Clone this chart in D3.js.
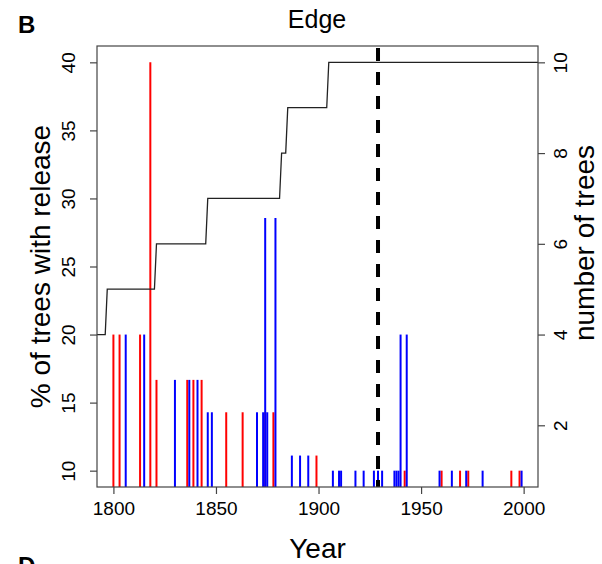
<!DOCTYPE html>
<html lang="en">
<head>
    <meta charset="UTF-8">
    <title>Edge</title>
    <style>
        body{ margin:0; background:#fff; }
        text{ font-family: "Liberation Sans", Arial, sans-serif; }
    </style>
</head>
<body>
    <script src="https://cdn.jsdelivr.net/npm/d3@7"></script>
    <script>
        const w = 602;
        const h = 564;

        // releases, red series (year, % of trees with release)
        const redYears = [1800,1803,1813,1818,1821,1836,1839,1843,1855,1863,1874,1878,1899,1942,1960,1969,1973,1994,1998];
        const redPct   = [20,20,20,40,16.67,16.67,16.67,16.67,14.29,14.29,14.29,14.29,11.11,10,10,10,10,10,10];

        // releases, blue series
        const blueYears = [1806,1815,1830,1837,1841,1846,1848,1870,1873,1874,1875,1879,1887,1891,1895,
                           1907,1910,1911,1918,1922,1927,1929,1931,1937,1938,1939,1940,1943,1959,1965,1972,1980,1999];
        const bluePct   = [20,20,16.67,16.67,16.67,14.29,14.29,14.29,14.29,28.57,14.29,28.57,11.11,11.11,11.11,
                           10,10,10,10,10,10,10,10,10,10,10,20,20,10,10,10,10,10];

        // number of trees through time
        const stepYears  = [1780,1796,1797,1820,1821,1845,1846,1881,1882,1884,1885,1904,1905,2020];
        const stepCounts = [4,4,5,5,6,6,7,7,8,8,9,9,10,10];

        const cutYear = 1929;

        const xTicks = [1800,1850,1900,1950,2000];
        const yTicks = [10,15,20,25,30,35,40];
        const nTicks = [2,4,6,8,10];

        const m = {left: 97, right: 538, top: 46, bottom: 487};

        const svg = d3.select("body")
            .append("svg")
            .attr("width", w)
            .attr("height", h);

        const x = d3.scaleLinear().domain([1792, 2007]).range([m.left, m.right]);
        const y = d3.scaleLinear().domain([8.8, 41.2]).range([m.bottom, m.top]);
        const y2 = d3.scaleLinear().domain([0.64, 10.36]).range([m.bottom, m.top]);

        svg.append("clipPath").attr("id", "clip")
            .append("rect")
            .attr("x", m.left).attr("y", m.top)
            .attr("width", m.right - m.left).attr("height", m.bottom - m.top);

        const plot = svg.append("g").attr("clip-path", "url(#clip)");

        // spikes
        const red = redYears.map((d, i) => ({year: d, pct: redPct[i]}));
        const blue = blueYears.map((d, i) => ({year: d, pct: bluePct[i]}));

        plot.selectAll(".red")
            .data(red)
            .join("line")
                .attr("class", "red")
                .attr("x1", d => x(d.year)).attr("x2", d => x(d.year))
                .attr("y1", m.bottom).attr("y2", d => y(d.pct))
                .attr("stroke", "#ff0000")
                .attr("stroke-width", 2);

        plot.selectAll(".blue")
            .data(blue)
            .join("line")
                .attr("class", "blue")
                .attr("x1", d => x(d.year)).attr("x2", d => x(d.year))
                .attr("y1", m.bottom).attr("y2", d => y(d.pct))
                .attr("stroke", "#0000ff")
                .attr("stroke-width", 2);

        // number of trees line
        const steps = stepYears.map((d, i) => [d, stepCounts[i]]);
        plot.append("path")
            .datum(steps)
            .attr("d", d3.line().x(d => x(d[0])).y(d => y2(d[1])))
            .attr("fill", "none")
            .attr("stroke", "#222")
            .attr("stroke-width", 1.3);

        // dashed cut line
        plot.append("line")
            .attr("x1", x(cutYear)).attr("x2", x(cutYear))
            .attr("y1", m.top).attr("y2", m.bottom)
            .attr("stroke", "#000")
            .attr("stroke-width", 4)
            .attr("stroke-dasharray", "13,11")
            .attr("stroke-dashoffset", -2);

        // frame
        svg.append("rect")
            .attr("x", m.left).attr("y", m.top)
            .attr("width", m.right - m.left).attr("height", m.bottom - m.top)
            .attr("fill", "none")
            .attr("stroke", "#444")
            .attr("stroke-width", 1.2);

        // axes
        const gx = svg.append("g")
            .attr("transform", `translate(0,${m.bottom})`)
            .call(d3.axisBottom(x).tickValues(xTicks).tickFormat(d3.format("d")).tickSizeInner(7).tickSizeOuter(0).tickPadding(8));

        const gy = svg.append("g")
            .attr("transform", `translate(${m.left},0)`)
            .call(d3.axisLeft(y).tickValues(yTicks).tickSizeInner(7).tickSizeOuter(0));

        const gy2 = svg.append("g")
            .attr("transform", `translate(${m.right},0)`)
            .call(d3.axisRight(y2).tickValues(nTicks).tickSizeInner(7).tickSizeOuter(0));

        [gx, gy, gy2].forEach(g => {
            g.select(".domain").remove();
            g.selectAll(".tick line").attr("stroke", "#444").attr("stroke-width", 1.2);
            g.selectAll("text").attr("font-size", 19).attr("fill", "#000")
                .style("font-family", "'Liberation Sans', Arial, sans-serif");
        });

        // rotated y tick labels (as in R)
        gy.selectAll(".tick text")
            .attr("x", null).attr("dy", null)
            .attr("text-anchor", "middle")
            .attr("transform", "translate(-22,0) rotate(-90)");

        gy2.selectAll(".tick text")
            .attr("x", null).attr("dy", null)
            .attr("text-anchor", "middle")
            .attr("transform", "translate(29,0) rotate(-90)");

        // titles
        svg.append("text")
            .attr("x", 317).attr("y", 28)
            .attr("text-anchor", "middle")
            .attr("font-size", 25)
            .text("Edge");

        svg.append("text")
            .attr("x", 18).attr("y", 33)
            .attr("font-size", 24)
            .attr("font-weight", "bold")
            .text("B");

        // next panel's label, only its top shows
        svg.append("text")
            .attr("x", 18).attr("y", 574)
            .attr("font-size", 24)
            .attr("font-weight", "bold")
            .text("D");

        svg.append("text")
            .attr("x", (m.left + m.right) / 2).attr("y", 558)
            .attr("text-anchor", "middle")
            .attr("font-size", 28)
            .text("Year");

        svg.append("text")
            .attr("transform", `translate(50,${(m.top + m.bottom) / 2}) rotate(-90)`)
            .attr("text-anchor", "middle")
            .attr("font-size", 28)
            .text("% of trees with release");

        svg.append("text")
            .attr("transform", `translate(594,243) rotate(-90)`)
            .attr("text-anchor", "middle")
            .attr("font-size", 28)
            .text("number of trees");
    </script>
</body>
</html>
